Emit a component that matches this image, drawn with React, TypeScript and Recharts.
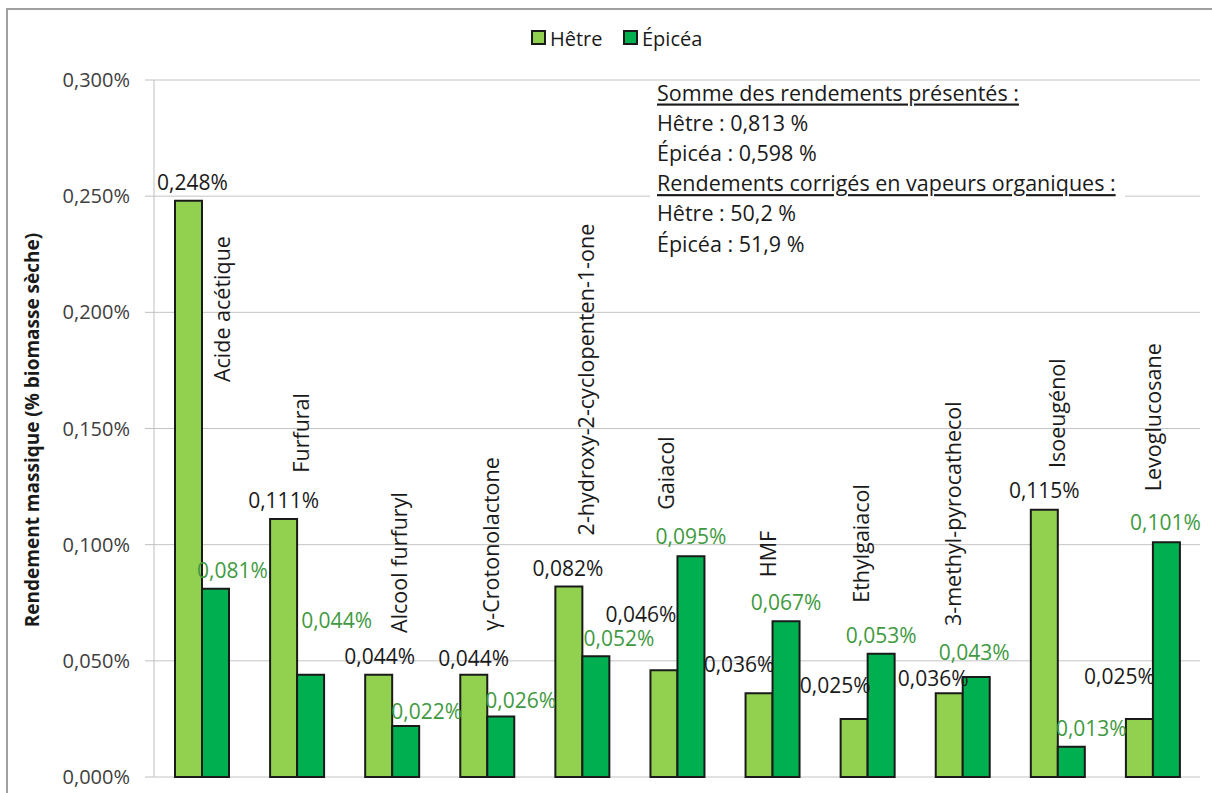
import React from "react";
import { BarChart, Bar, XAxis, YAxis, CartesianGrid, LabelList } from "recharts";

const CATEGORIES = [
  "Acide acétique",
  "Furfural",
  "Alcool furfuryl",
  "γ-Crotonolactone",
  "2-hydroxy-2-cyclopenten-1-one",
  "Gaiacol",
  "HMF",
  "Ethylgaiacol",
  "3-methyl-pyrocathecol",
  "Isoeugénol",
  "Levoglucosane",
];
const HETRE = [0.248, 0.111, 0.044, 0.044, 0.082, 0.046, 0.036, 0.025, 0.036, 0.115, 0.025];
const EPICEA = [0.081, 0.044, 0.022, 0.026, 0.052, 0.095, 0.067, 0.053, 0.043, 0.013, 0.101];
const Y_TICKS = [0, 0.05, 0.1, 0.15, 0.2, 0.25, 0.3];

const SUMMARY = [
  { text: "Somme des rendements présentés :", underline: true },
  { text: "Hêtre : 0,813 %", underline: false },
  { text: "Épicéa : 0,598 %", underline: false },
  { text: "Rendements corrigés en vapeurs organiques :", underline: true },
  { text: "Hêtre : 50,2 %", underline: false },
  { text: "Épicéa : 51,9 %", underline: false },
];

// Excel labels were dragged around by hand: px nudges from the default spot above each bar
const HETRE_NUDGE = [[4, 0], [0, 0], [1, 0], [0, 2], [-1, 1], [-23, -37], [-20, -10], [-19, -15], [-16, 4], [0, -1], [-20, -24]];
const EPICEA_NUDGE = [[17, 0], [26, -36], [21, 4], [20, 2], [23, 1], [0, -1], [0, 0], [0, 0], [-2, -6], [20, 0], [-1, -1]];
// rotated compound names: where the text starts (in axis units) and x shift from group centre
const NAME_START = [0.17, 0.131, 0.062, 0.063, 0.104, 0.115, 0.086, 0.075, 0.065, 0.133, 0.123];
const NAME_DX = [20, 3, 6, 3, 3, -12, -5, -7, -10, -1, 0];

const FONT = "'Open Sans', 'Noto Sans', sans-serif";
const HETRE_COLOR = "#92D050";
const EPICEA_COLOR = "#00B050";

const fmt = (v: number) => v.toFixed(3).replace(".", ",") + "%";

const data = CATEGORIES.map((name, i) => ({ name, hetre: HETRE[i], epicea: EPICEA[i] }));

function valueLabel(nudge: number[][], values: number[], color: string) {
  return (props: any) => {
    const vb = props.viewBox || props;
    const i = props.index ?? 0;
    const [dx, dy] = nudge[i] || [0, 0];
    return (
      <text
        x={vb.x + vb.width / 2 + dx}
        y={vb.y - 19 + dy}
        textAnchor="middle"
        dominantBaseline="central"
        fontSize={21}
        fontFamily={FONT}
        fill={color}
      >
        {fmt(values[i])}
      </text>
    );
  };
}

function nameLabel(props: any) {
  const vb = props.viewBox || props;
  const i = props.index ?? 0;
  const bottom = vb.y + vb.height;
  const k = vb.height / HETRE[i];
  const cx = vb.x + vb.width + NAME_DX[i];
  const cy = bottom - NAME_START[i] * k;
  return (
    <text
      x={cx}
      y={cy}
      transform={`rotate(-90 ${cx} ${cy})`}
      dominantBaseline="central"
      fontSize={21.5}
      fontFamily={FONT}
      fill="#1a1a1a"
    >
      {CATEGORIES[i]}
    </text>
  );
}

export default function App() {
  return (
    <div style={{ position: "absolute", left: 0, top: 0, width: 1212, height: 793, background: "#fff" }}>
      <BarChart
        width={1212}
        height={793}
        data={data}
        margin={{ top: 80, right: 12, bottom: 16, left: 0 }}
        barGap={0}
        barSize={27}
      >
        <CartesianGrid vertical={false} stroke="#c4c4c4" />
        <XAxis dataKey="name" hide />
        <YAxis
          width={154}
          domain={[0, 0.3]}
          ticks={Y_TICKS}
          tickFormatter={fmt}
          tickSize={9}
          tickMargin={15}
          axisLine={{ stroke: "#bfbfbf" }}
          tickLine={{ stroke: "#bfbfbf" }}
          tick={{ fontSize: 20, fill: "#404040", fontFamily: FONT }}
        />
        <Bar dataKey="hetre" fill={HETRE_COLOR} stroke="#1a1a1a" strokeWidth={2} isAnimationActive={false}>
          <LabelList dataKey="hetre" content={valueLabel(HETRE_NUDGE, HETRE, "#1a1a1a")} />
          <LabelList dataKey="name" content={nameLabel} />
        </Bar>
        <Bar dataKey="epicea" fill={EPICEA_COLOR} stroke="#1a1a1a" strokeWidth={2} isAnimationActive={false}>
          <LabelList dataKey="epicea" content={valueLabel(EPICEA_NUDGE, EPICEA, "#3f9a3f")} />
        </Bar>
      </BarChart>

      <svg
        width={1212}
        height={793}
        style={{ position: "absolute", left: 0, top: 0, pointerEvents: "none" }}
        fontFamily={FONT}
      >
        <rect x={7} y={9} width={1230} height={800} fill="none" stroke="#a0a0a0" strokeWidth={2} />

        {/* legend */}
        <rect x={532} y={31} width={13} height={13} fill={HETRE_COLOR} stroke="#1a1a1a" strokeWidth={2} />
        <text x={550} y={38} dominantBaseline="central" fontSize={20} fill="#1a1a1a">Hêtre</text>
        <rect x={624} y={31} width={13} height={13} fill={EPICEA_COLOR} stroke="#1a1a1a" strokeWidth={2} />
        <text x={642} y={38} dominantBaseline="central" fontSize={20} fill="#1a1a1a">Épicéa</text>

        {/* summary box */}
        <rect x={650} y={82} width={475} height={176} fill="#fff" />
        {SUMMARY.map((line, i) => (
          <text
            key={i}
            x={657}
            y={92 + i * 30.2}
            dominantBaseline="central"
            fontSize={21.5}
            fill="#1a1a1a"
            textDecoration={line.underline ? "underline" : undefined}
          >
            {line.text}
          </text>
        ))}

        {/* y axis title */}
        <text
          x={32}
          y={430}
          transform="rotate(-90 32 430)"
          textAnchor="middle"
          dominantBaseline="central"
          fontSize={19}
          fontWeight="bold"
          fill="#1a1a1a"
        >
          Rendement massique (% biomasse sèche)
        </text>
      </svg>
    </div>
  );
}
